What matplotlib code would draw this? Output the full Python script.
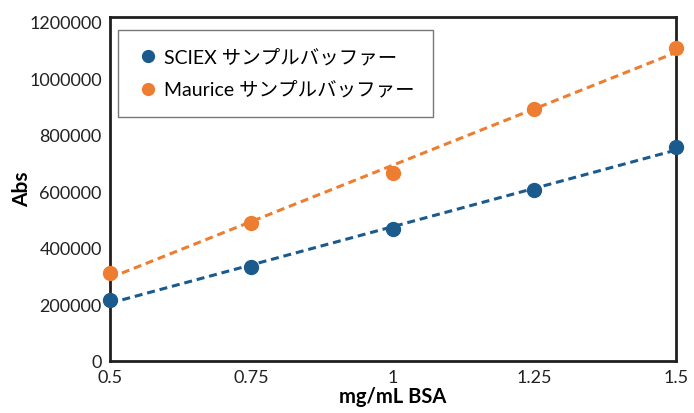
import matplotlib
matplotlib.use("Agg")
import matplotlib.pyplot as plt
import numpy as np

# BSA concentration (mg/mL) and absorbance readings for each buffer
conc = [0.5, 0.75, 1.0, 1.25, 1.5]
sciex_abs = [218000, 334000, 471000, 607000, 759000]
maurice_abs = [314000, 491000, 668000, 894000, 1110000]

series_labels = ["SCIEX サンプルバッファー", "Maurice サンプルバッファー"]
x_ticks = [0.5, 0.75, 1.0, 1.25, 1.5]
x_tick_labels = ["0.5", "0.75", "1", "1.25", "1.5"]
y_ticks = [0, 200000, 400000, 600000, 800000, 1000000, 1200000]

BLUE = "#1b5a8c"
ORANGE = "#ed7d31"
FRAME = "#231f1f"
FONTS = ["Lato", "Noto Sans CJK JP", "DejaVu Sans"]

plt.rcParams["font.family"] = FONTS

fig = plt.figure(figsize=(6.94, 4.13), dpi=100)
ax = fig.add_axes([0.1585, 0.1247, 0.8155, 0.8341])

x = np.array(conc)
for ys, color, label in [(sciex_abs, BLUE, series_labels[0]),
                         (maurice_abs, ORANGE, series_labels[1])]:
    # linear trend line through the points
    slope, intercept = np.polyfit(x, ys, 1)
    ax.plot(x, slope * x + intercept, color=color, linestyle=(0, (2.6, 1.6)),
            linewidth=2.2, zorder=2)
    ax.plot(x, ys, "o", color=color, markersize=10, label=label,
            clip_on=False, zorder=3)

ax.set_xlim(0.5, 1.5)
ax.set_ylim(0, 1220000)
ax.set_xticks(x_ticks)
ax.set_xticklabels(x_tick_labels)
ax.set_yticks(y_ticks)
ax.set_yticklabels([str(v) for v in y_ticks])
ax.tick_params(length=0, labelsize=13, colors="#222222", pad=6)

for spine in ax.spines.values():
    spine.set_color(FRAME)
    spine.set_linewidth(2.0)

ax.set_xlabel("mg/mL BSA", fontsize=14.5, fontweight="bold", labelpad=1)
ax.set_ylabel("Abs", fontsize=15, fontweight="bold", labelpad=-2)

leg = ax.legend(loc="upper left", bbox_to_anchor=(0.014, 0.962), fontsize=14,
                frameon=True, fancybox=False, edgecolor="#555555",
                borderaxespad=0, handletextpad=0.2, borderpad=0.95,
                labelspacing=0.75, handlelength=1.2, markerscale=0.85)
leg.get_frame().set_linewidth(1.0)

fig.savefig("out.png", dpi=100)
